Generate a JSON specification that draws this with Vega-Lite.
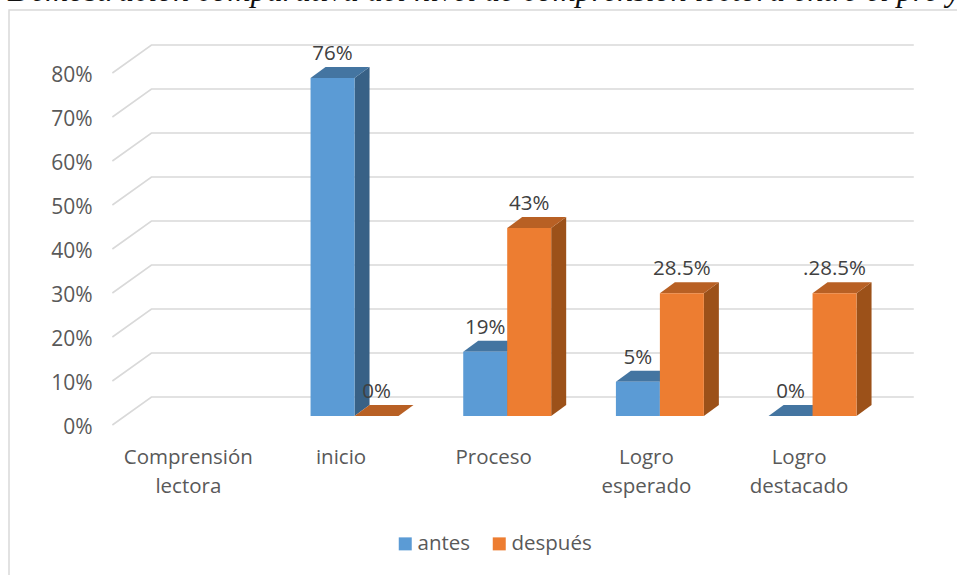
{
"$schema":"https://vega.github.io/schema/vega-lite/v6.json",
"width":957,"height":575,"autosize":{"type":"none"},"padding":0,"background":"white",
"config":{"view":{"stroke":null}},
"title":{"text":"Demostración comparativa del nivel de comprensión lectora entre el pre y","anchor":"start","frame":"group","offset":-8,"dx":8,"font":"Liberation Serif","fontStyle":"italic","fontWeight":"normal","fontSize":32,"color":"#111111"},
"datasets":{
"barras":[
{"categoria":"inicio","serie":"antes","posicion":1,"valor":76.8,"etiqueta":"76%"},
{"categoria":"inicio","serie":"después","posicion":1,"valor":0,"etiqueta":"0%"},
{"categoria":"Proceso","serie":"antes","posicion":2,"valor":14.6,"etiqueta":"19%"},
{"categoria":"Proceso","serie":"después","posicion":2,"valor":42.7,"etiqueta":"43%"},
{"categoria":"Logro esperado","serie":"antes","posicion":3,"valor":7.8,"etiqueta":"5%"},
{"categoria":"Logro esperado","serie":"después","posicion":3,"valor":27.9,"etiqueta":"28.5%"},
{"categoria":"Logro destacado","serie":"antes","posicion":4,"valor":0,"etiqueta":"0%"},
{"categoria":"Logro destacado","serie":"después","posicion":4,"valor":27.9,"etiqueta":".28.5%"}
],
"rejilla":[{"nivel":0},{"nivel":10},{"nivel":20},{"nivel":30},{"nivel":40},{"nivel":50},{"nivel":60},{"nivel":70},{"nivel":80}]
},
"encoding":{
"x":{"field":"px","type":"quantitative","title":null,"scale":{"domain":[-1.322,4.946],"nice":false,"zero":false},
"axis":{"orient":"bottom","offset":-128,"values":[0,1,2,3,4],"domain":false,"ticks":false,"grid":false,"labelFont":"Open Sans","labelFontSize":20.5,"labelColor":"#595959","labelOffset":-14,"labelPadding":0,"labelLineHeight":29,"labelBaseline":"top","labelOverlap":false,"labelFlush":false,"labelBound":false,
"labelExpr":"datum.value==0?['Comprensión','lectora']:datum.value==1?['inicio']:datum.value==2?['Proceso']:datum.value==3?['Logro','esperado']:['Logro','destacado']"}},
"y":{"field":"py","type":"quantitative","title":null,"scale":{"domain":[-36.136,94.545],"nice":false,"zero":false},
"axis":{"orient":"left","offset":-92,"values":[0,10,20,30,40,50,60,70,80],"domain":false,"ticks":false,"grid":false,"labelFont":"Open Sans","labelFontSize":21,"labelColor":"#595959","labelOffset":11.5,"labelPadding":0,"labelBound":false,"labelFlush":false,"labelOverlap":false,"labelExpr":"datum.value+'%'"}}
},
"layer":[
{"data":{"values":[{"elemento":"marco"}]},
"transform":[{"calculate":"-1.263","as":"px"},{"calculate":"4.97","as":"px2"},{"calculate":"92.27","as":"py"},{"calculate":"-37","as":"py2"}],
"mark":{"type":"rect","fill":null,"stroke":"#D9D9D9","strokeWidth":1.5},
"encoding":{"x2":{"field":"px2"},"y2":{"field":"py2"}}},
{"data":{"name":"rejilla"},
"transform":[{"calculate":"[-0.586,-0.330,4.663]","as":"ax"},{"calculate":"[datum.nivel-2.05,datum.nivel+4.32,datum.nivel+4.32]","as":"ay"},{"flatten":["ax","ay"],"as":["px","py"]}],
"mark":{"type":"line","stroke":"#D9D9D9","strokeWidth":1.6},
"encoding":{"detail":{"field":"nivel"}}},
{"data":{"name":"barras"},
"transform":[{"filter":"datum.serie=='antes'"},{"calculate":"datum.posicion","as":"x1"},{"calculate":"[datum.x1,datum.x1+0.0983]","as":"ax"},{"calculate":"[0,2.5]","as":"ay"},{"calculate":"[datum.valor,datum.valor+2.5]","as":"ay2"},{"flatten":["ax","ay","ay2"],"as":["px","py","py2"]}],
"mark":{"type":"area","color":"#386186"},
"encoding":{"y2":{"field":"py2"},"detail":{"field":"categoria"}}},
{"data":{"name":"barras"},
"transform":[{"filter":"datum.serie=='antes'"},{"calculate":"datum.posicion-0.288","as":"x0"},{"calculate":"datum.posicion","as":"x1"},{"calculate":"[datum.x0,datum.x0+0.0983,datum.x1,datum.x1+0.0983]","as":"ax"},{"calculate":"[datum.valor,datum.valor,datum.valor,datum.valor+2.5]","as":"ay"},{"calculate":"[datum.valor,datum.valor+2.5,datum.valor+2.5,datum.valor+2.5]","as":"ay2"},{"flatten":["ax","ay","ay2"],"as":["px","py","py2"]}],
"mark":{"type":"area","color":"#4475A1"},
"encoding":{"y2":{"field":"py2"},"detail":{"field":"categoria"}}},
{"data":{"name":"barras"},
"transform":[{"filter":"datum.serie=='antes'"},{"calculate":"datum.posicion-0.288","as":"px"},{"calculate":"datum.posicion","as":"px2"},{"calculate":"datum.valor","as":"py"},{"calculate":"0","as":"py2"}],
"mark":{"type":"rect"},
"encoding":{"x2":{"field":"px2"},"y2":{"field":"py2"},
"color":{"field":"serie","type":"nominal","scale":{"domain":["antes","después"],"range":["#5B9BD5","#ED7D31"]},
"legend":{"title":null,"orient":"none","legendX":395,"legendY":533.5,"direction":"horizontal","symbolType":"square","symbolSize":169,"symbolStrokeWidth":0,"labelFont":"Open Sans","labelFontSize":20.5,"labelColor":"#595959","labelOffset":2,"columnPadding":18,"padding":0}}}},
{"data":{"name":"barras"},
"transform":[{"filter":"datum.serie=='después'"},{"calculate":"datum.posicion+0.288","as":"x1"},{"calculate":"[datum.x1,datum.x1+0.0983]","as":"ax"},{"calculate":"[0,2.5]","as":"ay"},{"calculate":"[datum.valor,datum.valor+2.5]","as":"ay2"},{"flatten":["ax","ay","ay2"],"as":["px","py","py2"]}],
"mark":{"type":"area","color":"#9C5119"},
"encoding":{"y2":{"field":"py2"},"detail":{"field":"categoria"}}},
{"data":{"name":"barras"},
"transform":[{"filter":"datum.serie=='después'"},{"calculate":"datum.posicion","as":"x0"},{"calculate":"datum.posicion+0.288","as":"x1"},{"calculate":"[datum.x0,datum.x0+0.0983,datum.x1,datum.x1+0.0983]","as":"ax"},{"calculate":"[datum.valor,datum.valor,datum.valor,datum.valor+2.5]","as":"ay"},{"calculate":"[datum.valor,datum.valor+2.5,datum.valor+2.5,datum.valor+2.5]","as":"ay2"},{"flatten":["ax","ay","ay2"],"as":["px","py","py2"]}],
"mark":{"type":"area","color":"#B86024"},
"encoding":{"y2":{"field":"py2"},"detail":{"field":"categoria"}}},
{"data":{"name":"barras"},
"transform":[{"filter":"datum.serie=='después'"},{"calculate":"datum.posicion","as":"px"},{"calculate":"datum.posicion+0.288","as":"px2"},{"calculate":"datum.valor","as":"py"},{"calculate":"0","as":"py2"}],
"mark":{"type":"rect"},
"encoding":{"x2":{"field":"px2"},"y2":{"field":"py2"},
"color":{"field":"serie","type":"nominal","scale":{"domain":["antes","después"],"range":["#5B9BD5","#ED7D31"]}}}},
{"data":{"name":"barras"},
"transform":[{"calculate":"datum.serie=='antes'?datum.posicion-0.144:datum.posicion+0.144","as":"px"},{"calculate":"datum.valor","as":"py"}],
"mark":{"type":"text","font":"Open Sans","fontSize":20.5,"color":"#404040","dy":-24,"align":"center","baseline":"middle"},
"encoding":{"text":{"field":"etiqueta"}}}
]
}
